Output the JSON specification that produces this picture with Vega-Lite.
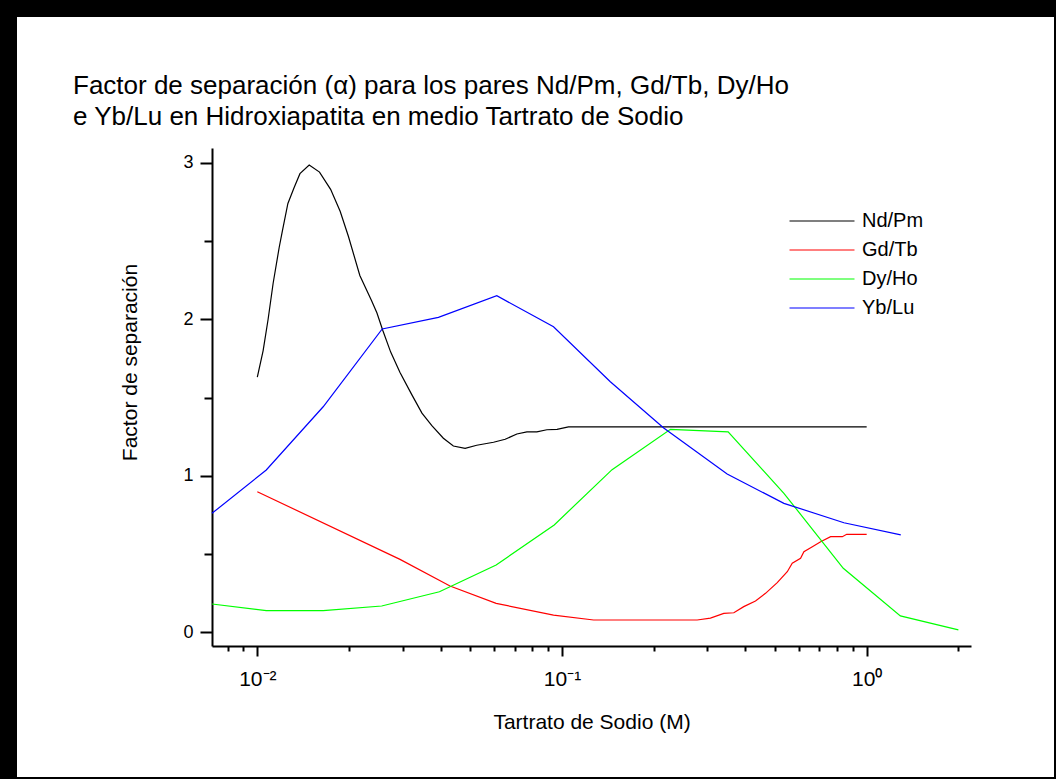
{
  "$schema": "https://vega.github.io/schema/vega-lite/v6.json",
  "autosize": {"type": "none"},
  "width": 1037,
  "height": 760,
  "padding": {"left": 17, "top": 17, "right": 2, "bottom": 2},
  "background": "black",
  "config": {
    "view": {"fill": "white", "stroke": null},
    "font": "Liberation Sans",
    "axis": {"grid": false, "domainColor": "black", "tickColor": "black", "labelColor": "black", "titleColor": "black", "labelFont": "Liberation Sans", "titleFont": "Liberation Sans", "titleFontWeight": "normal"}
  },
  "title": {
    "text": ["Factor de separación (α) para los pares Nd/Pm, Gd/Tb, Dy/Ho", "e Yb/Lu en Hidroxiapatita en medio Tartrato de Sodio"],
    "anchor": "start",
    "frame": "group",
    "dx": 56,
    "offset": -113,
    "font": "Liberation Sans",
    "fontSize": 26,
    "fontWeight": "normal",
    "color": "black",
    "lineHeight": 31,
    "baseline": "top"
  },
  "data": {
    "values": [
      {"serie": "Nd/Pm", "x": 0.01, "y": 1.63},
      {"serie": "Nd/Pm", "x": 0.01045, "y": 1.80},
      {"serie": "Nd/Pm", "x": 0.01085, "y": 2.0},
      {"serie": "Nd/Pm", "x": 0.01127, "y": 2.23},
      {"serie": "Nd/Pm", "x": 0.0118, "y": 2.46},
      {"serie": "Nd/Pm", "x": 0.0121, "y": 2.57},
      {"serie": "Nd/Pm", "x": 0.0126, "y": 2.74},
      {"serie": "Nd/Pm", "x": 0.0132, "y": 2.84},
      {"serie": "Nd/Pm", "x": 0.0138, "y": 2.93},
      {"serie": "Nd/Pm", "x": 0.0148, "y": 2.985},
      {"serie": "Nd/Pm", "x": 0.016, "y": 2.94},
      {"serie": "Nd/Pm", "x": 0.0174, "y": 2.83},
      {"serie": "Nd/Pm", "x": 0.0187, "y": 2.69},
      {"serie": "Nd/Pm", "x": 0.0199, "y": 2.53},
      {"serie": "Nd/Pm", "x": 0.0217, "y": 2.28},
      {"serie": "Nd/Pm", "x": 0.0237, "y": 2.12},
      {"serie": "Nd/Pm", "x": 0.0247, "y": 2.04},
      {"serie": "Nd/Pm", "x": 0.0258, "y": 1.93},
      {"serie": "Nd/Pm", "x": 0.0274, "y": 1.79},
      {"serie": "Nd/Pm", "x": 0.0294, "y": 1.66},
      {"serie": "Nd/Pm", "x": 0.0321, "y": 1.52},
      {"serie": "Nd/Pm", "x": 0.0347, "y": 1.40},
      {"serie": "Nd/Pm", "x": 0.0374, "y": 1.32},
      {"serie": "Nd/Pm", "x": 0.0408, "y": 1.24},
      {"serie": "Nd/Pm", "x": 0.044, "y": 1.19},
      {"serie": "Nd/Pm", "x": 0.0481, "y": 1.175},
      {"serie": "Nd/Pm", "x": 0.0525, "y": 1.195},
      {"serie": "Nd/Pm", "x": 0.0596, "y": 1.214},
      {"serie": "Nd/Pm", "x": 0.0651, "y": 1.233},
      {"serie": "Nd/Pm", "x": 0.0711, "y": 1.267},
      {"serie": "Nd/Pm", "x": 0.0767, "y": 1.28},
      {"serie": "Nd/Pm", "x": 0.0827, "y": 1.28},
      {"serie": "Nd/Pm", "x": 0.0892, "y": 1.294},
      {"serie": "Nd/Pm", "x": 0.0963, "y": 1.297},
      {"serie": "Nd/Pm", "x": 0.105, "y": 1.312},
      {"serie": "Nd/Pm", "x": 1.0, "y": 1.313},
      {"serie": "Gd/Tb", "x": 0.01, "y": 0.898},
      {"serie": "Gd/Tb", "x": 0.0294, "y": 0.466},
      {"serie": "Gd/Tb", "x": 0.0429, "y": 0.296},
      {"serie": "Gd/Tb", "x": 0.0608, "y": 0.185},
      {"serie": "Gd/Tb", "x": 0.0938, "y": 0.110},
      {"serie": "Gd/Tb", "x": 0.127, "y": 0.0786},
      {"serie": "Gd/Tb", "x": 0.2777, "y": 0.0786},
      {"serie": "Gd/Tb", "x": 0.307, "y": 0.091},
      {"serie": "Gd/Tb", "x": 0.3397, "y": 0.121},
      {"serie": "Gd/Tb", "x": 0.3664, "y": 0.125},
      {"serie": "Gd/Tb", "x": 0.395, "y": 0.164},
      {"serie": "Gd/Tb", "x": 0.4316, "y": 0.200},
      {"serie": "Gd/Tb", "x": 0.4656, "y": 0.249},
      {"serie": "Gd/Tb", "x": 0.5087, "y": 0.317},
      {"serie": "Gd/Tb", "x": 0.5488, "y": 0.387},
      {"serie": "Gd/Tb", "x": 0.5698, "y": 0.441},
      {"serie": "Gd/Tb", "x": 0.6068, "y": 0.473},
      {"serie": "Gd/Tb", "x": 0.6223, "y": 0.515},
      {"serie": "Gd/Tb", "x": 0.6633, "y": 0.547},
      {"serie": "Gd/Tb", "x": 0.7062, "y": 0.579},
      {"serie": "Gd/Tb", "x": 0.7614, "y": 0.611},
      {"serie": "Gd/Tb", "x": 0.8321, "y": 0.611},
      {"serie": "Gd/Tb", "x": 0.8597, "y": 0.626},
      {"serie": "Gd/Tb", "x": 1.0, "y": 0.626},
      {"serie": "Dy/Ho", "x": 0.0071, "y": 0.181},
      {"serie": "Dy/Ho", "x": 0.0107, "y": 0.138},
      {"serie": "Dy/Ho", "x": 0.01645, "y": 0.138},
      {"serie": "Dy/Ho", "x": 0.0256, "y": 0.168},
      {"serie": "Dy/Ho", "x": 0.0396, "y": 0.259},
      {"serie": "Dy/Ho", "x": 0.0608, "y": 0.430},
      {"serie": "Dy/Ho", "x": 0.0943, "y": 0.686},
      {"serie": "Dy/Ho", "x": 0.146, "y": 1.039},
      {"serie": "Dy/Ho", "x": 0.227, "y": 1.297},
      {"serie": "Dy/Ho", "x": 0.351, "y": 1.280},
      {"serie": "Dy/Ho", "x": 0.535, "y": 0.888},
      {"serie": "Dy/Ho", "x": 0.838, "y": 0.409},
      {"serie": "Dy/Ho", "x": 1.29, "y": 0.105},
      {"serie": "Dy/Ho", "x": 2.0, "y": 0.015},
      {"serie": "Yb/Lu", "x": 0.0071, "y": 0.76},
      {"serie": "Yb/Lu", "x": 0.0107, "y": 1.037},
      {"serie": "Yb/Lu", "x": 0.01645, "y": 1.441},
      {"serie": "Yb/Lu", "x": 0.0257, "y": 1.938},
      {"serie": "Yb/Lu", "x": 0.0393, "y": 2.012},
      {"serie": "Yb/Lu", "x": 0.0611, "y": 2.150},
      {"serie": "Yb/Lu", "x": 0.0938, "y": 1.952},
      {"serie": "Yb/Lu", "x": 0.1441, "y": 1.601},
      {"serie": "Yb/Lu", "x": 0.2157, "y": 1.305},
      {"serie": "Yb/Lu", "x": 0.3484, "y": 1.011},
      {"serie": "Yb/Lu", "x": 0.535, "y": 0.824},
      {"serie": "Yb/Lu", "x": 0.842, "y": 0.700},
      {"serie": "Yb/Lu", "x": 1.294, "y": 0.622}
    ]
  },
  "mark": {"type": "line", "strokeWidth": 1.2, "clip": true},
  "encoding": {
    "x": {
      "field": "x", "type": "quantitative",
      "scale": {"type": "log", "domain": [0.0071, 2.2], "range": [195, 954], "nice": false},
      "axis": {
        "orient": "bottom",
        "offset": -131,
        "values": [0.008, 0.009, 0.01, 0.02, 0.03, 0.04, 0.05, 0.06, 0.07, 0.08, 0.09, 0.1, 0.2, 0.3, 0.4, 0.5, 0.6, 0.7, 0.8, 0.9, 1, 2],
        "labelExpr": "datum.value == 0.01 ? '10⁻²' : datum.value == 0.1 ? '10⁻¹' : datum.value == 1 ? '10⁰' : ''",
        "labelOverlap": false,
        "labelFontSize": 21,
        "labelPadding": 12,
        "labelBaseline": "top",
        "domainWidth": 2,
        "tickWidth": 2,
        "tickSize": {"condition": {"test": "datum.value == 0.01 || datum.value == 0.1 || datum.value == 1", "value": 10}, "value": 5},
        "title": "Tartrato de Sodio (M)",
        "titleFontSize": 21,
        "titleY": 82,
        "titleBaseline": "alphabetic"
      }
    },
    "y": {
      "field": "y", "type": "quantitative",
      "scale": {"domain": [-0.0875, 3.094], "range": [629, 131], "nice": false, "zero": false},
      "axis": {
        "orient": "left",
        "offset": -195,
        "values": [0, 0.5, 1, 1.5, 2, 2.5, 3],
        "labelExpr": "datum.value % 1 == 0 ? format(datum.value, 'd') : ''",
        "labelFontSize": 18,
        "labelPadding": 7,
        "domainWidth": 2,
        "tickWidth": 2,
        "tickSize": {"condition": {"test": "datum.value % 1 == 0", "value": 12}, "value": 8},
        "title": "Factor de separación",
        "titleFontSize": 21,
        "titleAngle": -90,
        "titleX": -76,
        "titleY": 345,
        "titleBaseline": "alphabetic",
        "titleAlign": "center"
      }
    },
    "color": {
      "field": "serie", "type": "nominal",
      "scale": {"domain": ["Nd/Pm", "Gd/Tb", "Dy/Ho", "Yb/Lu"], "range": ["#000000", "#ff0000", "#00ff00", "#0000ff"]},
      "legend": {
        "orient": "none",
        "legendX": 795,
        "legendY": 194,
        "title": null,
        "symbolType": "M-4,0H4",
        "symbolSize": 264,
        "symbolStrokeWidth": 1.2,
        "labelFontSize": 20,
        "labelFont": "Liberation Sans",
        "labelColor": "black",
        "labelOffset": 30,
        "rowPadding": 9
      }
    }
  }
}
